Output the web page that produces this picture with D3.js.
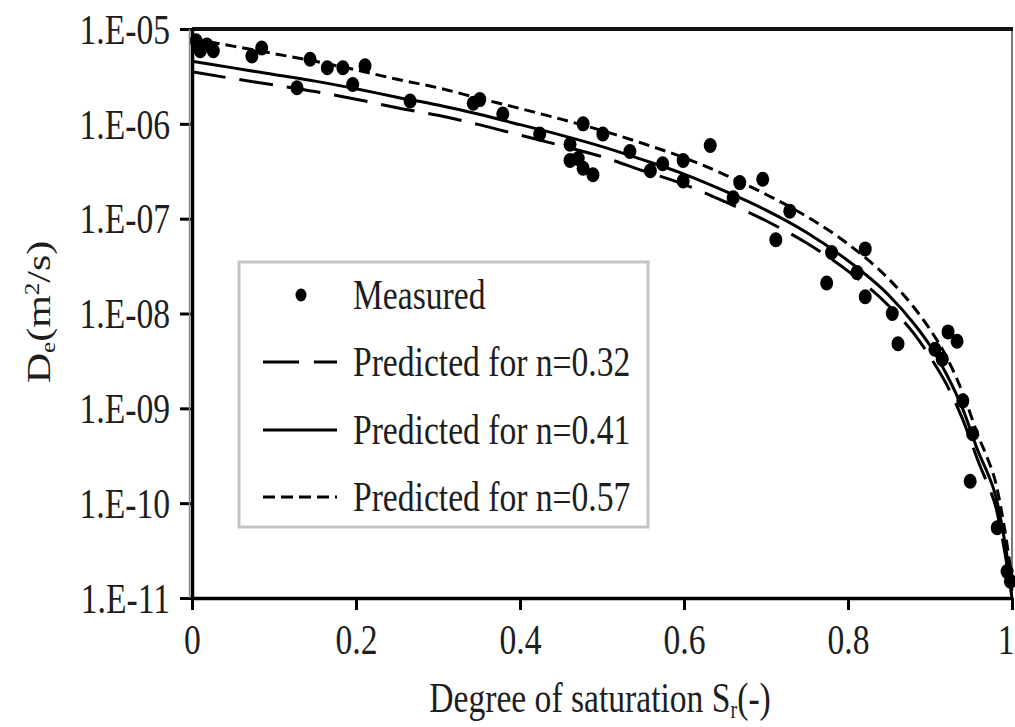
<!DOCTYPE html>
<html>
<head>
<meta charset="utf-8">
<script src="https://cdn.jsdelivr.net/npm/d3@7"></script>
<style>
  html, body { margin: 0; padding: 0; background: #fff; }
  svg { display: block; }
  text { font-family: "Liberation Serif", "Times New Roman", serif; fill: #1e1e1e; }
</style>
</head>
<body>
<svg id="chart" width="1015" height="727"></svg>
<script>
// Degree of saturation grid used by the predicted curves
const satGrid = [0, 0.05, 0.1, 0.15, 0.2, 0.25, 0.3, 0.35, 0.4, 0.45, 0.5, 0.55, 0.6, 0.65,
  0.7, 0.75, 0.8, 0.85, 0.88, 0.9, 0.92, 0.94, 0.96, 0.97, 0.98, 0.99, 1.0];

// Predicted effective diffusion coefficient De (m2/s) for three porosities
const predN032 = [3.55e-6, 3.0e-6, 2.57e-6, 2.19e-6, 1.82e-6, 1.48e-6, 1.23e-6, 9.8e-7, 7.6e-7,
  5.9e-7, 4.5e-7, 3.2e-7, 2.3e-7, 1.51e-7, 9.5e-8, 5.5e-8, 2.8e-8, 1.2e-8, 6.2e-9, 3.5e-9,
  1.8e-9, 7.6e-10, 2.6e-10, 1.6e-10, 9.3e-11, 3.5e-11, 1.0e-11];
const predN041 = [4.57e-6, 3.89e-6, 3.31e-6, 2.82e-6, 2.34e-6, 1.91e-6, 1.58e-6, 1.26e-6, 9.8e-7,
  7.6e-7, 5.75e-7, 4.17e-7, 2.95e-7, 1.95e-7, 1.23e-7, 7.1e-8, 3.6e-8, 1.55e-8, 7.9e-9, 4.6e-9,
  2.3e-9, 9.8e-10, 3.3e-10, 2.1e-10, 1.2e-10, 4.5e-11, 1.2e-11];
const predN057 = [7.9e-6, 6.6e-6, 5.5e-6, 4.57e-6, 3.7e-6, 2.95e-6, 2.4e-6, 1.86e-6, 1.45e-6,
  1.12e-6, 8.5e-7, 6.2e-7, 4.4e-7, 2.9e-7, 1.8e-7, 1.05e-7, 5.4e-8, 2.3e-8, 1.17e-8, 6.8e-9,
  3.5e-9, 1.45e-9, 4.8e-10, 3.0e-10, 1.66e-10, 6.0e-11, 1.6e-11];

// Measured values
const measuredS = [0.005, 0.010, 0.018, 0.026, 0.073, 0.085, 0.128, 0.144, 0.165, 0.184, 0.196,
  0.211, 0.266, 0.343, 0.351, 0.379, 0.424, 0.461, 0.477, 0.501, 0.461, 0.471, 0.477, 0.489,
  0.534, 0.559, 0.574, 0.599, 0.599, 0.632, 0.660, 0.668, 0.696, 0.729, 0.712, 0.780, 0.821,
  0.774, 0.811, 0.821, 0.854, 0.861, 0.906, 0.915, 0.922, 0.933, 0.940, 0.952, 0.949, 0.982,
  0.994, 0.998];
const measuredD = [7.5e-6, 5.9e-6, 6.8e-6, 5.9e-6, 5.2e-6, 6.3e-6, 2.4e-6, 4.8e-6, 3.9e-6, 3.9e-6,
  2.6e-6, 4.1e-6, 1.74e-6, 1.65e-6, 1.8e-6, 1.27e-6, 7.8e-7, 6.1e-7, 1.0e-6, 7.8e-7, 4.1e-7,
  4.3e-7, 3.4e-7, 2.9e-7, 5.1e-7, 3.2e-7, 3.8e-7, 4.1e-7, 2.5e-7, 5.9e-7, 1.66e-7, 2.4e-7,
  2.6e-7, 1.2e-7, 6.0e-8, 4.4e-8, 4.8e-8, 2.1e-8, 2.7e-8, 1.5e-8, 1.0e-8, 4.8e-9, 4.2e-9,
  3.3e-9, 6.4e-9, 5.1e-9, 1.2e-9, 5.4e-10, 1.7e-10, 5.5e-11, 1.9e-11, 1.5e-11];

// Axis ticks
const xTickValues = [0, 0.2, 0.4, 0.6, 0.8, 1];
const xTickLabels = ["0", "0.2", "0.4", "0.6", "0.8", "1"];
const yTickValues = [1e-5, 1e-6, 1e-7, 1e-8, 1e-9, 1e-10, 1e-11];
const yTickLabels = ["1.E-05", "1.E-06", "1.E-07", "1.E-08", "1.E-09", "1.E-10", "1.E-11"];

const legendLabels = ["Measured", "Predicted for n=0.32", "Predicted for n=0.41", "Predicted for n=0.57"];

// ---- layout ----
const plot = { left: 192, right: 1012, top: 29, bottom: 598 };
const squeeze = 0.8;       // narrow typeface look
const fontSize = 42;
const textColor = "#222";

const svg = d3.select("#chart");
const x = d3.scaleLinear().domain([0, 1]).range([plot.left, plot.right]);
const y = d3.scaleLog().domain([1e-11, 1e-5]).range([plot.bottom, plot.top]);

// frame: gray right edge, black top edge
svg.append("line")
  .attr("x1", plot.right).attr("x2", plot.right)
  .attr("y1", plot.top).attr("y2", plot.bottom)
  .attr("stroke", "#7a7a7a").attr("stroke-width", 2);
svg.append("line")
  .attr("x1", plot.left).attr("x2", plot.right + 1)
  .attr("y1", plot.top).attr("y2", plot.top)
  .attr("stroke", "#111").attr("stroke-width", 4);

// predicted curves
const line = d3.line()
  .x(d => x(d[0]))
  .y(d => y(d[1]))
  .curve(d3.curveMonotoneX);

const curves = [
  { values: predN032, dash: "34,14" },
  { values: predN041, dash: null },
  { values: predN057, dash: "11,6" }
];
const curveG = svg.append("g");
curves.forEach(c => {
  curveG.append("path")
    .datum(satGrid.map((s, i) => [s, c.values[i]]))
    .attr("d", line)
    .attr("fill", "none")
    .attr("stroke", "#000")
    .attr("stroke-width", 3)
    .attr("stroke-dasharray", c.dash);
});

// measured points
svg.append("g")
  .selectAll("ellipse")
  .data(measuredS.map((s, i) => [s, measuredD[i]]))
  .join("ellipse")
  .attr("cx", d => x(d[0]))
  .attr("cy", d => y(d[1]))
  .attr("rx", 6.5)
  .attr("ry", 7.5)
  .attr("fill", "#000");

// axes
const yAxis = svg.append("g")
  .attr("transform", `translate(${plot.left},0)`)
  .call(d3.axisLeft(y).tickValues(yTickValues)
    .tickFormat((d, i) => yTickLabels[i]).tickSizeInner(12).tickSizeOuter(0));
const xAxis = svg.append("g")
  .attr("transform", `translate(0,${plot.bottom})`)
  .call(d3.axisBottom(x).tickValues(xTickValues)
    .tickFormat((d, i) => xTickLabels[i]).tickSizeInner(12).tickSizeOuter(0));

// thin gray shadow along the left axis
svg.append("line")
  .attr("x1", plot.left - 2.5).attr("x2", plot.left - 2.5)
  .attr("y1", plot.top).attr("y2", plot.bottom)
  .attr("stroke", "#8a8a8a").attr("stroke-width", 1.5);

[yAxis, xAxis].forEach(g => {
  g.select(".domain").attr("stroke", "#000").attr("stroke-width", 3.5);
  g.selectAll(".tick line").attr("stroke", "#000").attr("stroke-width", 3);
  g.selectAll(".tick text")
    .style("font-family", '"Liberation Serif", serif')
    .attr("font-size", fontSize)
    .attr("fill", textColor);
});
yAxis.selectAll(".tick text")
  .attr("x", -22 / squeeze)
  .attr("dy", "0.34em")
  .attr("transform", `scale(${squeeze},1)`);
xAxis.selectAll(".tick text")
  .attr("y", 42)
  .attr("dy", "0.34em")
  .attr("transform", `scale(${squeeze},1)`);
// last label sits against the right edge of the page
xAxis.selectAll(".tick text")
  .filter(d => d === 1)
  .attr("text-anchor", "end")
  .attr("x", 2 / squeeze);

// axis titles
const xTitle = svg.append("text")
  .attr("transform", `translate(600,712) scale(${squeeze},1)`)
  .attr("text-anchor", "middle")
  .attr("font-size", fontSize)
  .attr("fill", textColor);
xTitle.append("tspan").text("Degree of saturation S");
xTitle.append("tspan").attr("font-size", fontSize * 0.6).attr("dy", 6).text("r");
xTitle.append("tspan").attr("dy", -6).text("(-)");

const yTitle = svg.append("text")
  .attr("transform", `translate(50,312) scale(${squeeze},1) rotate(-90)`)
  .attr("text-anchor", "middle")
  .attr("font-size", fontSize)
  .attr("fill", textColor);
yTitle.append("tspan").text("D");
yTitle.append("tspan").attr("font-size", fontSize * 0.6).attr("dy", 6).text("e");
yTitle.append("tspan").attr("dy", -6).text("(m");
yTitle.append("tspan").attr("font-size", fontSize * 0.6).attr("dy", -14).text("2");
yTitle.append("tspan").attr("dy", 14).text("/s)");

// legend
const legend = svg.append("g");
legend.append("rect")
  .attr("x", 239).attr("y", 262)
  .attr("width", 409).attr("height", 265)
  .attr("fill", "#fff")
  .attr("stroke", "#c4c4c4").attr("stroke-width", 3);

const rowY = [295, 362, 430, 497];
const legendDash = [null, "36,15", null, "12,6"];
legendLabels.forEach((lab, i) => {
  if (i === 0) {
    legend.append("ellipse")
      .attr("cx", 301).attr("cy", rowY[i])
      .attr("rx", 5.5).attr("ry", 6.5).attr("fill", "#000");
  } else {
    legend.append("line")
      .attr("x1", 263).attr("x2", 337)
      .attr("y1", rowY[i]).attr("y2", rowY[i])
      .attr("stroke", "#000").attr("stroke-width", 3)
      .attr("stroke-dasharray", legendDash[i]);
  }
  legend.append("text")
    .attr("transform", `translate(353,${rowY[i]}) scale(${squeeze},1)`)
    .attr("dy", "0.34em")
    .attr("font-size", fontSize)
    .attr("fill", textColor)
    .text(lab);
});
</script>
</body>
</html>
